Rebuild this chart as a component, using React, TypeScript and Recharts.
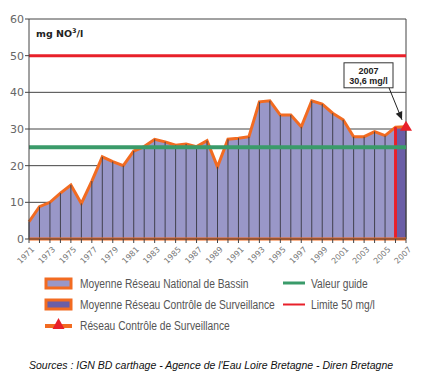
import React from 'react';
import { ComposedChart, Area, XAxis, YAxis, CartesianGrid, ReferenceLine, ReferenceDot } from 'recharts';

const years = [1971, 1972, 1973, 1974, 1975, 1976, 1977, 1978, 1979, 1980, 1981, 1982, 1983, 1984, 1985, 1986, 1987, 1988, 1989, 1990, 1991, 1992, 1993, 1994, 1995, 1996, 1997, 1998, 1999, 2000, 2001, 2002, 2003, 2004, 2005, 2006, 2007];
const nationalValues = [4.7, 8.8, 10.0, 12.5, 14.7, 9.7, 15.8, 22.4, 21.1, 20.0, 24.0, 25.2, 27.2, 26.5, 25.6, 25.9, 25.2, 26.8, 19.7, 27.2, 27.5, 27.9, 37.4, 37.7, 33.8, 33.8, 30.6, 37.7, 36.8, 34.3, 32.5, 27.9, 27.9, 29.3, 28.2, 30.5, 30.6];
const controleYears = [2006, 2007];
const controleValues = [30.5, 30.6];
const rcsYear = 2007;
const rcsValue = 30.6;
const guideValue = 25;
const limitValue = 50;
const yTicks = [0, 10, 20, 30, 40, 50, 60];
const labelYear = '2007';
const labelValue = '30,6 mg/l';

const ORANGE = '#f26b21';
const LIGHT = '#9997c8';
const DARK = '#6a5ea6';
const GREEN = '#3a9b6a';
const RED = '#e8202a';

const data = years.map((year, i) => {
  const ci = controleYears.indexOf(year);
  return {
    year,
    national: nationalValues[i],
    controle: ci >= 0 ? controleValues[ci] : null,
  };
});

const XTick = (props: any) => {
  const { x, y, payload } = props;
  if (payload.value % 2 === 0) return null;
  return (
    <g transform={`translate(${x + 2},${y + 1}) rotate(-45)`}>
      <text x={0} y={0} dy="0.7em" textAnchor="end" fill="#777" fontSize={8} fontFamily="DejaVu Sans">
        {payload.value}
      </text>
    </g>
  );
};

const Triangle = (props: any) => {
  const { cx, cy } = props;
  return <polygon points={`${cx},${cy - 6} ${cx - 6},${cy + 4} ${cx + 6},${cy + 4}`} fill={RED} />;
};

const Annotation = (props: any) => {
  const { cx, cy } = props;
  const bx = cx - 62;
  const by = cy - 64;
  const ex = cx - 4;
  const ey = cy - 7;
  const sx = cx - 17;
  const sy = cy - 39;
  const ang = Math.atan2(ey - sy, ex - sx);
  const hl = 8;
  const hw = 3.5;
  const p1x = ex - hl * Math.cos(ang) + hw * Math.sin(ang);
  const p1y = ey - hl * Math.sin(ang) - hw * Math.cos(ang);
  const p2x = ex - hl * Math.cos(ang) - hw * Math.sin(ang);
  const p2y = ey - hl * Math.sin(ang) + hw * Math.cos(ang);
  return (
    <g>
      <rect x={bx} y={by} width={49} height={25} fill="#fff" stroke="#333" strokeWidth={1} />
      <text x={bx + 24.5} y={by + 11} textAnchor="middle" fontSize={9} fontWeight="bold" fontFamily="Liberation Sans, Arial" fill="#222">{labelYear}</text>
      <text x={bx + 24.5} y={by + 21} textAnchor="middle" fontSize={9} fontWeight="bold" fontFamily="Liberation Sans, Arial" fill="#222">{labelValue}</text>
      <line x1={sx} y1={sy} x2={ex} y2={ey} stroke="#222" strokeWidth={1} />
      <polygon points={`${ex},${ey} ${p1x},${p1y} ${p2x},${p2y}`} fill="#222" />
    </g>
  );
};

const legendFont = '"Liberation Sans", Arial';

const LegendText = ({ x, y, children }: any) => (
  <text transform={`translate(${x},${y}) scale(0.76,1)`} fontSize={13.5} fontFamily={legendFont} fill="#555">
    {children}
  </text>
);

export default function App() {
  return (
    <div style={{ position: 'absolute', left: 0, top: 0, width: 423, height: 377, background: '#fff' }}>
      <ComposedChart width={423} height={275} data={data} margin={{ top: 19, right: 17, bottom: 6, left: 0 }}>
        <CartesianGrid horizontal vertical={false} stroke="#444" strokeWidth={1} />
        <XAxis
          dataKey="year"
          type="number"
          domain={[1971, 2007]}
          ticks={years}
          interval={0}
          tick={<XTick />}
          tickLine={{ stroke: '#444' }}
          axisLine={{ stroke: '#444' }}
          tickSize={4}
          height={30}
        />
        <YAxis
          domain={[0, 60]}
          ticks={yTicks}
          width={29}
          tick={{ fill: '#666', fontSize: 11, fontFamily: 'DejaVu Sans' }}
          tickLine={{ stroke: '#444' }}
          axisLine={{ stroke: '#444' }}
          tickSize={4}
          tickMargin={1}
          interval={0}
        />
        <Area type="linear" dataKey="national" fill={LIGHT} fillOpacity={1} stroke="none" isAnimationActive={false} dot={false} activeDot={false} />
        {years.map((yr, i) => (
          <ReferenceLine key={`v${yr}`} segment={[{ x: yr, y: 0 }, { x: yr, y: nationalValues[i] }]} stroke="#40404e" strokeWidth={1} />
        ))}
        <Area type="linear" dataKey="controle" fill={DARK} fillOpacity={1} stroke="none" isAnimationActive={false} dot={false} activeDot={false} connectNulls={false} />
        <ReferenceLine segment={[{ x: controleYears[0], y: 0 }, { x: controleYears[0], y: controleValues[0] }]} stroke={RED} strokeWidth={3} />
        <ReferenceLine x={2007} stroke="#444" strokeWidth={1} />
        <Area type="linear" dataKey="national" fill="none" stroke={ORANGE} strokeWidth={3} isAnimationActive={false} dot={false} activeDot={false} />
        <ReferenceLine y={0} stroke={ORANGE} strokeWidth={3} />
        <ReferenceLine y={guideValue} stroke={GREEN} strokeWidth={4} />
        <ReferenceLine y={limitValue} stroke={RED} strokeWidth={3} />
        <ReferenceDot x={rcsYear} y={rcsValue} shape={<Triangle />} ifOverflow="visible" />
        <ReferenceDot x={rcsYear} y={rcsValue} shape={<Annotation />} ifOverflow="visible" />
      </ComposedChart>
      <svg width={423} height={377} style={{ position: 'absolute', left: 0, top: 0, pointerEvents: 'none' }}>
        <text x={36} y={37} fontSize={9.5} fontWeight="bold" fontFamily="DejaVu Sans" fill="#222">
          mg NO<tspan dy={-4} fontSize={6.5}>3</tspan><tspan dy={4}>/l</tspan>
        </text>
        <rect x={46} y={279} width={25} height={9} fill={LIGHT} stroke={ORANGE} strokeWidth={3} />
        <LegendText x={80} y={288}>Moyenne Réseau National de Bassin</LegendText>
        <rect x={46} y={300} width={25} height={9} fill={DARK} stroke={ORANGE} strokeWidth={3} />
        <LegendText x={80} y={309}>Moyenne Réseau Contrôle de Surveillance</LegendText>
        <line x1={45} y1={326} x2={72} y2={326} stroke={ORANGE} strokeWidth={4} />
        <polygon points="58.5,318 52.5,329 64.5,329" fill={RED} />
        <LegendText x={80} y={330}>Réseau Contrôle de Surveillance</LegendText>
        <line x1={283} y1={283} x2={305} y2={283} stroke={GREEN} strokeWidth={3} />
        <LegendText x={311} y={288}>Valeur guide</LegendText>
        <line x1={283} y1={304.5} x2={305} y2={304.5} stroke={RED} strokeWidth={2} />
        <LegendText x={311} y={309}>Limite 50 mg/l</LegendText>
        <text x={29} y={369} fontSize={10.5} fontStyle="italic" fontFamily="Liberation Sans, Arial" fill="#111">
          Sources : IGN BD carthage - Agence de l'Eau Loire Bretagne - Diren Bretagne
        </text>
      </svg>
    </div>
  );
}
